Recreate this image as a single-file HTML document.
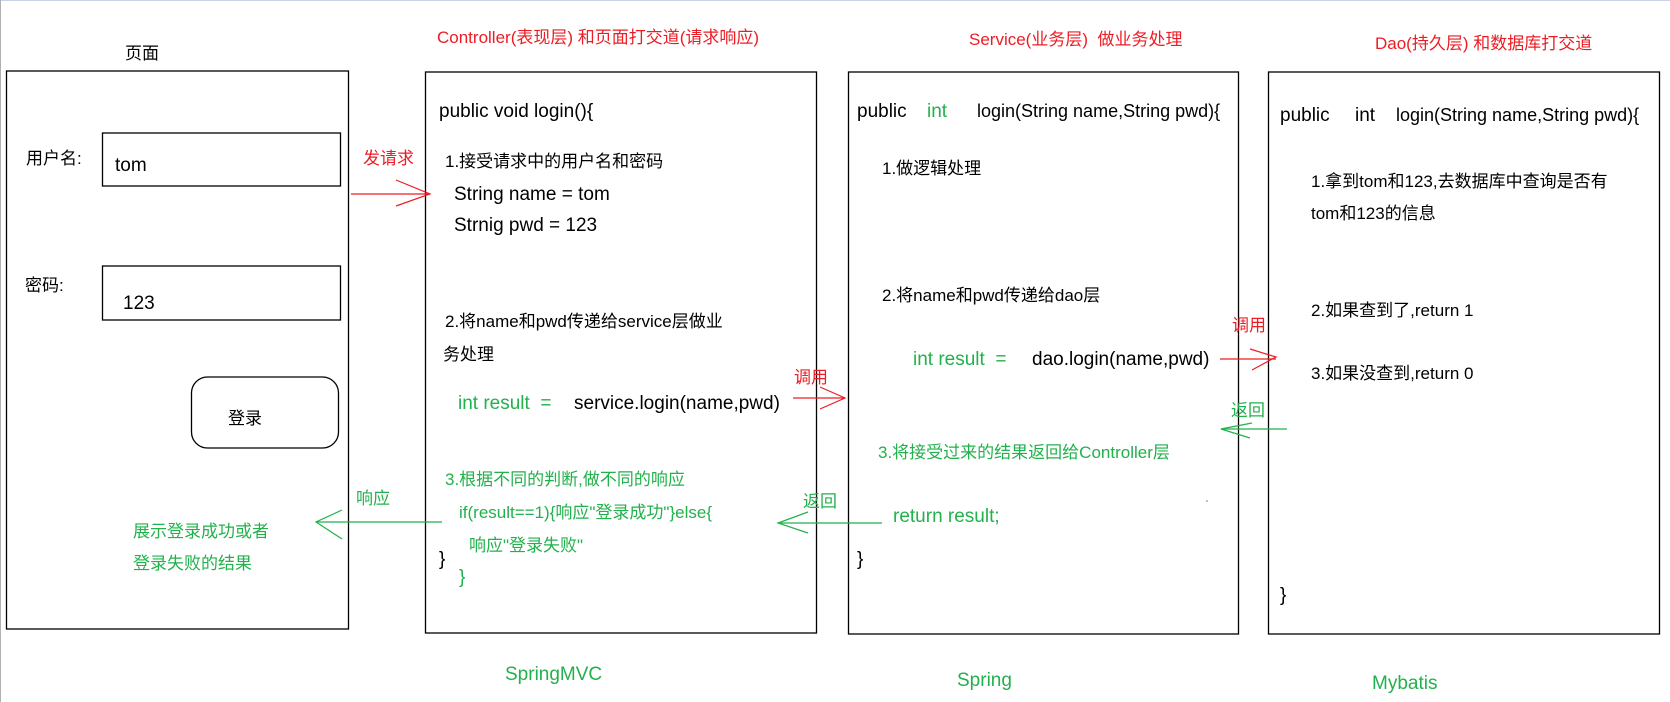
<!DOCTYPE html>
<html><head><meta charset="utf-8"><style>
html,body{margin:0;padding:0;background:#fff;}
svg{display:block;}
text{font-family:"Liberation Sans","Noto Sans CJK SC",sans-serif;font-size:17px;fill:#000;}
text.l{font-size:19px;}
text.m{font-size:18px;}
.r{fill:#ed1c24;} .g{fill:#22b14c;}
</style></head><body>
<svg width="1670" height="702" viewBox="0 0 1670 702" xmlns="http://www.w3.org/2000/svg">
<line x1="0" y1="0.5" x2="1670" y2="0.5" stroke="#c8d4e6" stroke-width="1"/>
<line x1="0.5" y1="0" x2="0.5" y2="702" stroke="#b0b0b0" stroke-width="1"/>
<g fill="none" stroke="#000" stroke-width="1.3">
<rect x="6.5" y="71" width="342" height="558"/>
<rect x="102.5" y="133" width="238" height="53"/>
<rect x="102.5" y="266" width="238" height="54"/>
<rect x="191.5" y="377" width="147" height="71" rx="16"/>
<rect x="425.5" y="72" width="391" height="561"/>
<rect x="848.5" y="72" width="390" height="562"/>
<rect x="1268.5" y="72" width="391" height="562"/>
</g>
<g stroke="#ed1c24" stroke-width="1.2" fill="none">
<line x1="351" y1="194" x2="430" y2="194"/><polyline points="396,180 430,194 396,206"/>
<line x1="793" y1="398" x2="845" y2="398"/><polyline points="820,387 845,398 820,409"/>
<line x1="1220" y1="359" x2="1276" y2="359"/><polyline points="1250,349 1276,357 1252,370"/>
</g>
<g stroke="#22b14c" stroke-width="1.2" fill="none">
<line x1="442" y1="522" x2="316" y2="522"/><polyline points="342,510 316,522 342,539"/>
<line x1="882" y1="523" x2="778" y2="523"/><polyline points="808,512 778,523 808,533"/>
<line x1="1287" y1="429" x2="1221" y2="429"/><polyline points="1252,423 1221,429 1250,438"/>
</g>
<circle cx="1207" cy="501" r="0.8" fill="#22b14c"/>
<text x="125" y="59">页面</text>
<text x="26" y="164">用户名:</text>
<text class="l" x="115" y="171">tom</text>
<text x="25" y="291">密码:</text>
<text class="l" x="123" y="309">123</text>
<text x="228" y="424">登录</text>
<text class="g" x="356" y="504">响应</text>
<text class="g" x="133" y="537">展示登录成功或者</text>
<text class="g" x="133" y="569">登录失败的结果</text>
<text class="r" x="363" y="164">发请求</text>
<text class="r" x="437" y="43">Controller(表现层) 和页面打交道(请求响应)</text>
<text class="l" x="439" y="117">public void login(){</text>
<text x="445" y="167">1.接受请求中的用户名和密码</text>
<text class="l" x="454" y="200">String name = tom</text>
<text class="l" x="454" y="231">Strnig pwd = 123</text>
<text x="445" y="327">2.将name和pwd传递给service层做业</text>
<text x="443" y="360">务处理</text>
<text class="g l" x="458" y="409">int result&#160;&#160;=</text>
<text class="l" x="574" y="409">service.login(name,pwd)</text>
<text class="r" x="794" y="383">调用</text>
<text class="g" x="445" y="485">3.根据不同的判断,做不同的响应</text>
<text class="g" x="459" y="518">if(result==1){响应"登录成功"}else{</text>
<text class="g" x="469" y="551">响应"登录失败"</text>
<text class="l" x="439" y="565">}</text>
<text class="g l" x="459" y="583">}</text>
<text class="g" x="803" y="507">返回</text>
<text class="g l" x="505" y="680">SpringMVC</text>
<text class="r" x="969" y="45">Service(业务层)&#160;&#160;做业务处理</text>
<text class="l" x="857" y="117">public</text>
<text class="g l" x="927" y="117">int</text>
<text class="m" x="977" y="117">login(String name,String pwd){</text>
<text x="882" y="174">1.做逻辑处理</text>
<text x="882" y="301">2.将name和pwd传递给dao层</text>
<text class="g l" x="913" y="365">int result&#160;&#160;=</text>
<text class="l" x="1032" y="365">dao.login(name,pwd)</text>
<text class="r" x="1232" y="331">调用</text>
<text class="g" x="1231" y="416">返回</text>
<text class="g" x="878" y="458">3.将接受过来的结果返回给Controller层</text>
<text class="g l" x="893" y="522">return result;</text>
<text class="l" x="857" y="565">}</text>
<text class="g l" x="957" y="686">Spring</text>
<text class="r" x="1375" y="49">Dao(持久层) 和数据库打交道</text>
<text class="l" x="1280" y="121">public</text>
<text class="l" x="1355" y="121">int</text>
<text class="m" x="1396" y="121">login(String name,String pwd){</text>
<text x="1311" y="187">1.拿到tom和123,去数据库中查询是否有</text>
<text x="1311" y="219">tom和123的信息</text>
<text x="1311" y="316">2.如果查到了,return 1</text>
<text x="1311" y="379">3.如果没查到,return 0</text>
<text class="l" x="1280" y="601">}</text>
<text class="g l" x="1372" y="689">Mybatis</text>
</svg>
</body></html>
